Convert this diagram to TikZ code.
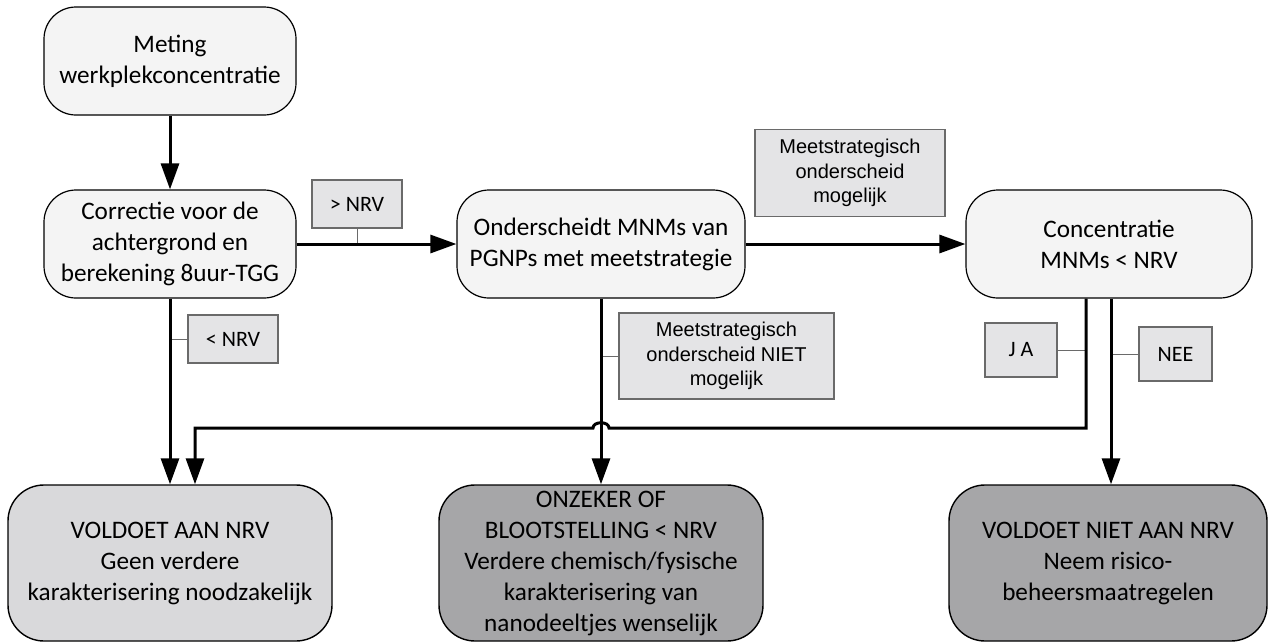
\documentclass[tikz,border=0pt]{standalone}
\usepackage{fontspec}
\setmainfont{Carlito}
\newfontfamily\arialfont{Liberation Sans}
\usetikzlibrary{arrows.meta}
\definecolor{stapgrijs}{HTML}{F4F4F4}
\definecolor{etiketgrijs}{HTML}{E4E4E6}
\definecolor{randgrijs}{HTML}{6A6A6A}
\definecolor{lichtgrijs}{HTML}{D9D9DB}
\definecolor{donkergrijs}{HTML}{A6A6A8}

\begin{document}
\begin{tikzpicture}[x=0.5pt,y=-0.5pt,
stap/.style={draw,rounded corners=16pt,fill=stapgrijs,line width=0.6pt,
minimum width=126pt,minimum height=54pt,align=center,inner sep=2pt,
font=\fontsize{12.6}{15.5}\selectfont},
uitkomst/.style={draw,rounded corners=18pt,line width=0.7pt,
minimum width=162pt,minimum height=78pt,align=center,inner sep=1pt,
font=\fontsize{12.6}{15.5}\selectfont},
etiket/.style={draw=randgrijs,fill=etiketgrijs,line width=0.6pt,
minimum width=45pt,minimum height=24pt,inner sep=1pt,align=center,
font=\fontsize{11}{13}\selectfont},
uitleg/.style={etiket,font=\arialfont\fontsize{10}{12.3}\selectfont},
pijl/.style={line width=1.5pt,-{Triangle[length=13pt,width=9pt]}},
tik/.style={line width=0.5pt,draw=randgrijs}]
\useasboundingbox (0,0) rectangle (1268,643);

\node[stap] (meting) at (170,61) {Meting\\werkplekconcentratie};
\node[stap] (correctie) at (170,244) {Correctie voor de\\achtergrond en\\berekening 8uur-TGG};
\node[stap,minimum width=144pt] (onderscheid) at (601,244) {Onderscheidt MNMs van\\PGNPs met meetstrategie};
\node[stap,minimum width=143pt] (concentratie) at (1109,244) {Concentratie\\MNMs < NRV};

\node[uitkomst,fill=lichtgrijs] (voldoet) at (170,563) {VOLDOET AAN NRV\\Geen verdere\\karakterisering noodzakelijk};
\node[uitkomst,fill=donkergrijs] (onzeker) at (601,563) {ONZEKER OF\\BLOOTSTELLING < NRV\\Verdere chemisch/fysische\\karakterisering van\\nanodeeltjes wenselijk};
\node[uitkomst,fill=donkergrijs,minimum width=159pt] (voldoetniet) at (1108,563) {VOLDOET NIET AAN NRV\\Neem risico-\\beheersmaatregelen};

\node[etiket] (groter) at (357,204) {> NRV};
\node[etiket] (kleiner) at (233,339) {< NRV};
\node[uitleg,minimum width=95pt,minimum height=43.5pt] (wel) at (850,173) {Meetstrategisch\\onderscheid\\mogelijk};
\node[uitleg,minimum width=107.5pt,minimum height=43pt] (niet) at (726.5,356) {Meetstrategisch\\onderscheid NIET\\mogelijk};
\node[etiket,minimum width=36pt,minimum height=27pt] (ja) at (1021,350) {J A};
\node[etiket,minimum width=36.5pt,minimum height=27pt] (nee) at (1175.5,354) {NEE};

\coordinate (jalijn) at (1086,0);
\coordinate (neelijn) at (1111,0);
\coordinate (kruis) at (601,428);
\coordinate (terug) at (195,428);

\draw[tik] (groter.south) -- (groter.south |- correctie.east);
\draw[tik] (kleiner.west) -- (kleiner.west -| correctie.south);
\draw[tik] (niet.west) -- (niet.west -| onderscheid.south);
\draw[tik] (ja.east) -- (ja.east -| jalijn);
\draw[tik] (nee.west) -- (nee.west -| neelijn);

\draw[pijl] (meting) -- (correctie);
\draw[pijl] (correctie) -- (onderscheid);
\draw[pijl] (onderscheid) -- (concentratie);
\draw[pijl] (correctie) -- (voldoet);
\draw[pijl] (onderscheid) -- (onzeker);
\draw[pijl] (concentratie.south -| neelijn) -- (voldoetniet.north -| neelijn);
\draw[pijl] (concentratie.south -| jalijn) -- (jalijn |- kruis) -- ([xshift=4pt]kruis)
  .. controls ([xshift=4pt,yshift=3.5pt]kruis) and ([xshift=-4pt,yshift=3.5pt]kruis) .. ([xshift=-4pt]kruis)
  -- (terug) -- (voldoet.north -| terug);
\end{tikzpicture}
\end{document}
